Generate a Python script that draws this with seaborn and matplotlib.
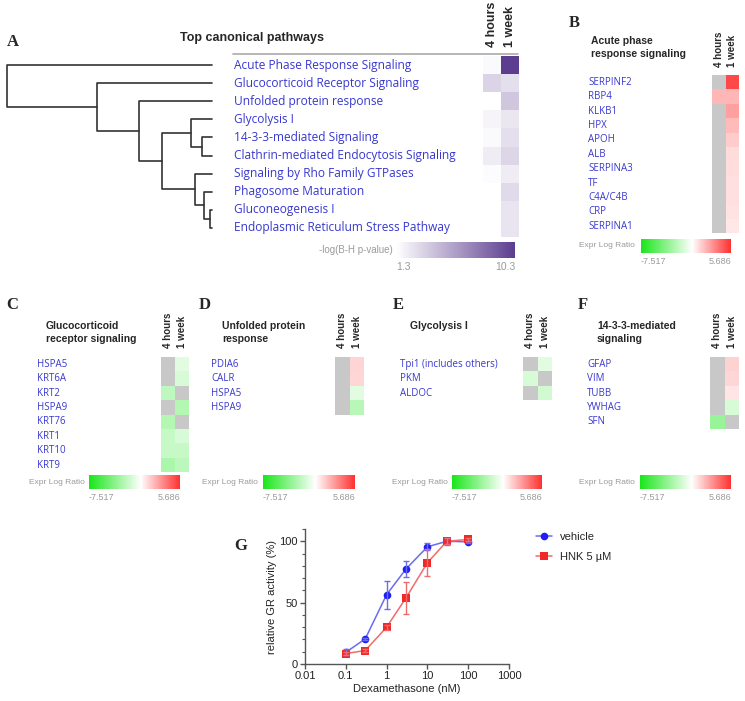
import numpy as np
import pandas as pd
import matplotlib
matplotlib.use('Agg')
import matplotlib.pyplot as plt
import seaborn as sns
from matplotlib.colors import LinearSegmentedColormap, Normalize
from matplotlib.cm import ScalarMappable
from matplotlib.lines import Line2D
from matplotlib.ticker import MultipleLocator, NullLocator

nan = np.nan

# ---- data ----
timepoints = ['4 hours', '1 week']

pathways = ['Acute Phase Response Signaling', 'Glucocorticoid Receptor Signaling',
            'Unfolded protein response', 'Glycolysis I', '14-3-3-mediated Signaling',
            'Clathrin-mediated Endocytosis Signaling', 'Signaling by Rho Family GTPases',
            'Phagosome Maturation', 'Gluconeogenesis I', 'Endoplasmic Reticulum Stress Pathway']
pw_4h = [1.6, 3.3, nan, 1.8, 1.6, 2.2, 1.5, nan, nan, nan]
pw_1w = [10.3, 2.8, 3.9, 2.4, 2.8, 3.2, 2.2, 3.0, 2.5, 2.5]

# dendrogram merges (left child, right child, distance); leaves 0-9, new nodes from 10
link_a = [8, 7, 6, 4, 3, 14, 2, 1, 0]
link_b = [9, 10, 11, 5, 13, 12, 15, 16, 17]
link_h = [2, 8, 17, 10, 21, 50, 73, 115, 205]

genes_b = ['SERPINF2', 'RBP4', 'KLKB1', 'HPX', 'APOH', 'ALB', 'SERPINA3', 'TF',
           'C4A/C4B', 'CRP', 'SERPINA1']
b_4h = [nan, 2.0, nan, nan, nan, nan, nan, nan, nan, nan, nan]
b_1w = [5.0, 2.0, 2.6, 1.9, 1.4, 0.95, 0.9, 0.85, 0.85, 0.75, 0.65]

genes_c = ['HSPA5', 'KRT6A', 'KRT2', 'HSPA9', 'KRT76', 'KRT1', 'KRT10', 'KRT9']
c_4h = [nan, nan, -2.1, nan, -2.5, -1.8, -1.8, -2.7]
c_1w = [-1.0, -1.3, nan, -2.5, nan, -1.3, -1.8, -2.2]

genes_d = ['PDIA6', 'CALR', 'HSPA5', 'HSPA9']
d_4h = [nan, nan, nan, nan]
d_1w = [1.15, 1.1, -1.0, -2.3]

genes_e = ['Tpi1 (includes others)', 'PKM', 'ALDOC']
e_4h = [nan, -1.3, nan]
e_1w = [-1.0, nan, -1.5]

genes_f = ['GFAP', 'VIM', 'TUBB', 'YWHAG', 'SFN']
f_4h = [nan, nan, nan, nan, -3.3]
f_1w = [1.2, 1.1, 0.7, -1.3, nan]

expr_min, expr_max = -7.517, 5.686
pval_min, pval_max = 1.3, 10.3

dose = [0.1, 0.3, 1, 3, 10, 30, 100]
vehicle_mean = [9.5, 20.5, 56.5, 77.5, 95.5, 100, 99.5]
vehicle_err = [2.5, 1, 11.5, 6.5, 3, 3, 1]
hnk_mean = [8.5, 11, 30, 54, 82.5, 100, 101.5]
hnk_err = [1.5, 1, 2, 13, 11, 2.5, 1]

# ---- style ----
W, H = 745, 701
sns.set_theme(style='white')
plt.rcParams['font.family'] = ['Liberation Sans', 'DejaVu Sans']

BLUE = '#3838d0'
GRAY_TXT = '#9a9a9a'
NAN_GRAY = '#c8c8c8'
z = -expr_min / (expr_max - expr_min)
expr_cmap = LinearSegmentedColormap.from_list('expr', [(0, '#19e619'), (z, '#ffffff'), (1, '#ff3030')])
pval_cmap = LinearSegmentedColormap.from_list('pval', ['#ffffff', '#5c3d8f'])

fig = plt.figure(figsize=(W / 100, H / 100), dpi=100)


def box(x0, y0, x1, y1):
    return fig.add_axes([x0 / W, 1 - y1 / H, (x1 - x0) / W, (y1 - y0) / H])


def heat(x0, y0, x1, labels, col1, col2, cmap, vmin, vmax, label_x,
         nan_color=NAN_GRAY, lab_size=7, head_size=7, head_pad=6.5, row_h=14.4):
    df = pd.DataFrame({timepoints[0]: col1, timepoints[1]: col2}, index=labels)
    ax = box(x0, y0, x1, y0 + row_h * len(labels))
    sns.heatmap(df, ax=ax, cmap=cmap, vmin=vmin, vmax=vmax, cbar=False,
                xticklabels=True, yticklabels=True)
    ax.set_facecolor(nan_color)
    ax.xaxis.tick_top()
    ax.set_xticklabels(timepoints, rotation=90, fontweight='bold', fontsize=head_size)
    ax.set_yticklabels(labels, rotation=0, ha='left', fontsize=lab_size, color=BLUE,
                       family='Open Sans')
    ax.tick_params(axis='y', length=0, pad=(x0 - label_x) * 0.72)
    ax.tick_params(axis='x', length=0, pad=head_pad)
    ax.set_xlabel('')
    ax.set_ylabel('')
    return ax


def cbar(x0, y0, x1, y1, cmap, vmin, vmax, label, label_right, ticklabels, size=6):
    cax = box(x0, y0, x1, y1)
    cb = fig.colorbar(ScalarMappable(norm=Normalize(vmin, vmax), cmap=cmap),
                      cax=cax, orientation='horizontal')
    cb.outline.set_visible(False)
    cax.set_xticks([vmin, vmax])
    tl = cax.set_xticklabels(ticklabels, fontsize=size + 0.5, color=GRAY_TXT)
    tl[0].set_ha('left')
    tl[1].set_ha('right')
    cax.tick_params(axis='x', length=0, pad=3)
    fig.text(label_right / W, 1 - (y0 + y1) / 2 / H, label, ha='right', va='center',
             color=GRAY_TXT, fontsize=size)


def letter(x, y, s):
    fig.text(x / W, 1 - y / H, s, ha='center', va='center', fontsize=12,
             fontweight='bold', family='Liberation Serif')


def title(x, y, s, size=7.5):
    fig.text(x / W, 1 - y / H, s, ha='left', va='top', fontsize=size,
             fontweight='bold', linespacing=1.35)


# ---- Panel A ----
letter(13, 42, 'A')
fig.text(252 / W, 1 - 38 / H, 'Top canonical pathways', ha='center', va='center',
         fontsize=9, fontweight='bold')
fig.add_artist(Line2D([233 / W, 518 / W], [1 - 54 / H, 1 - 54 / H], color='#aaaaaa', lw=1.2))
heat(483, 56, 519, pathways, pw_4h, pw_1w, pval_cmap, pval_min, pval_max, 234,
     nan_color='white', lab_size=8.6, head_size=9, head_pad=6.5, row_h=18.1)
cbar(396, 242, 515, 258, pval_cmap, pval_min, pval_max, '-log(B-H p-value)', 393,
     ['1.3', '10.3'], size=7)

# dendrogram
dax = box(7, 56, 212, 56 + 18.1 * 10)
nodes = {i: (i + 0.5, 0.0) for i in range(len(pathways))}
for k, (a, b, h) in enumerate(zip(link_a, link_b, link_h)):
    ya, ha_ = nodes[a]
    yb, hb = nodes[b]
    dax.plot([ha_, h, h, hb], [ya, ya, yb, yb], color='#333333', lw=1.2, clip_on=False)
    nodes[len(pathways) + k] = ((ya + yb) / 2, h)
dax.set_xlim(max(link_h), 0)
dax.set_ylim(len(pathways), 0)
dax.axis('off')

# ---- Panel B ----
letter(574, 23, 'B')
title(591, 36, 'Acute phase\nresponse signaling')
heat(712, 75, 739, genes_b, b_4h, b_1w, expr_cmap, expr_min, expr_max, 588, head_pad=5.8)
cbar(641, 239, 731, 253, expr_cmap, expr_min, expr_max, 'Expr Log Ratio', 635,
     ['-7.517', '5.686'])

# ---- Panels C-F ----
letter(12, 305, 'C')
title(46, 321, 'Glucocorticoid\nreceptor signaling')
heat(161, 357, 189, genes_c, c_4h, c_1w, expr_cmap, expr_min, expr_max, 37)
cbar(89, 475, 180, 489, expr_cmap, expr_min, expr_max, 'Expr Log Ratio', 85,
     ['-7.517', '5.686'])

letter(205, 305, 'D')
title(222, 321, 'Unfolded protein\nresponse')
heat(335, 357, 364, genes_d, d_4h, d_1w, expr_cmap, expr_min, expr_max, 211)
cbar(263, 475, 355, 489, expr_cmap, expr_min, expr_max, 'Expr Log Ratio', 258,
     ['-7.517', '5.686'])

letter(398, 305, 'E')
title(410, 321, 'Glycolysis I')
heat(523, 357, 552, genes_e, e_4h, e_1w, expr_cmap, expr_min, expr_max, 400)
cbar(452, 475, 542, 489, expr_cmap, expr_min, expr_max, 'Expr Log Ratio', 448,
     ['-7.517', '5.686'])

letter(583, 305, 'F')
title(597, 321, '14-3-3-mediated\nsignaling')
heat(710, 357, 739, genes_f, f_4h, f_1w, expr_cmap, expr_min, expr_max, 587)
cbar(640, 475, 731, 489, expr_cmap, expr_min, expr_max, 'Expr Log Ratio', 635,
     ['-7.517', '5.686'])

# ---- Panel G ----
letter(241, 546, 'G')
gax = box(305, 529, 509, 664)
groups = ['vehicle', 'HNK 5 µM']
strong = {'vehicle': '#1f1ff5', 'HNK 5 µM': '#f02828'}
light = {'vehicle': '#6b6bf2', 'HNK 5 µM': '#f26b6b'}
df_g = pd.DataFrame({
    'dose': dose * 2,
    'activity': vehicle_mean + hnk_mean,
    'err': vehicle_err + hnk_err,
    'group': [groups[0]] * len(dose) + [groups[1]] * len(dose),
})
gax.set_xscale('log')
sns.lineplot(data=df_g, x='dose', y='activity', hue='group', style='group',
             palette=strong, markers={'vehicle': 'o', 'HNK 5 µM': 's'}, dashes=False,
             markersize=5.5, markeredgewidth=0, linewidth=1.1, legend=False, ax=gax)
plot_lines = list(gax.lines)
for line, g in zip(plot_lines, groups):
    line.set_color(light[g])
    line.set_markerfacecolor(strong[g])
    line.set_markeredgecolor(strong[g])
for g in groups:
    sub = df_g[df_g['group'] == g]
    gax.errorbar(sub['dose'], sub['activity'], yerr=sub['err'], fmt='none',
                 ecolor=light[g], elinewidth=1, capsize=2.5, capthick=1)
gax.set_xlim(0.01, 1000)
gax.set_ylim(0, 110)
gax.set_xticks([0.01, 0.1, 1, 10, 100, 1000])
gax.set_xticklabels(['0.01', '0.1', '1', '10', '100', '1000'])
gax.xaxis.set_minor_locator(NullLocator())
gax.set_yticks([0, 50, 100])
gax.yaxis.set_minor_locator(MultipleLocator(10))
sns.despine(ax=gax)
for s in ['left', 'bottom']:
    gax.spines[s].set_color('#555555')
    gax.spines[s].set_linewidth(1)
gax.tick_params(axis='both', which='major', direction='out', length=3.5, width=1,
                color='#555555', labelsize=8, labelcolor='#222222', pad=1.5,
                bottom=True, left=True)
gax.tick_params(axis='y', which='minor', direction='out', length=2.5, width=0.8,
                color='#555555', left=True)
gax.set_xlabel('Dexamethasone (nM)', fontsize=8, color='#222222', labelpad=2)
gax.set_ylabel('relative GR activity (%)', fontsize=8, color='#222222', labelpad=2)
gax.legend(handles=plot_lines, labels=groups, loc='upper left',
           bbox_to_anchor=(536 / W, 1 - 532 / H), bbox_transform=fig.transFigure,
           frameon=False, fontsize=8, handlelength=1.4, handletextpad=0.8,
           labelspacing=0.9, borderaxespad=0, borderpad=0)

fig.savefig('out.png', dpi=100)
